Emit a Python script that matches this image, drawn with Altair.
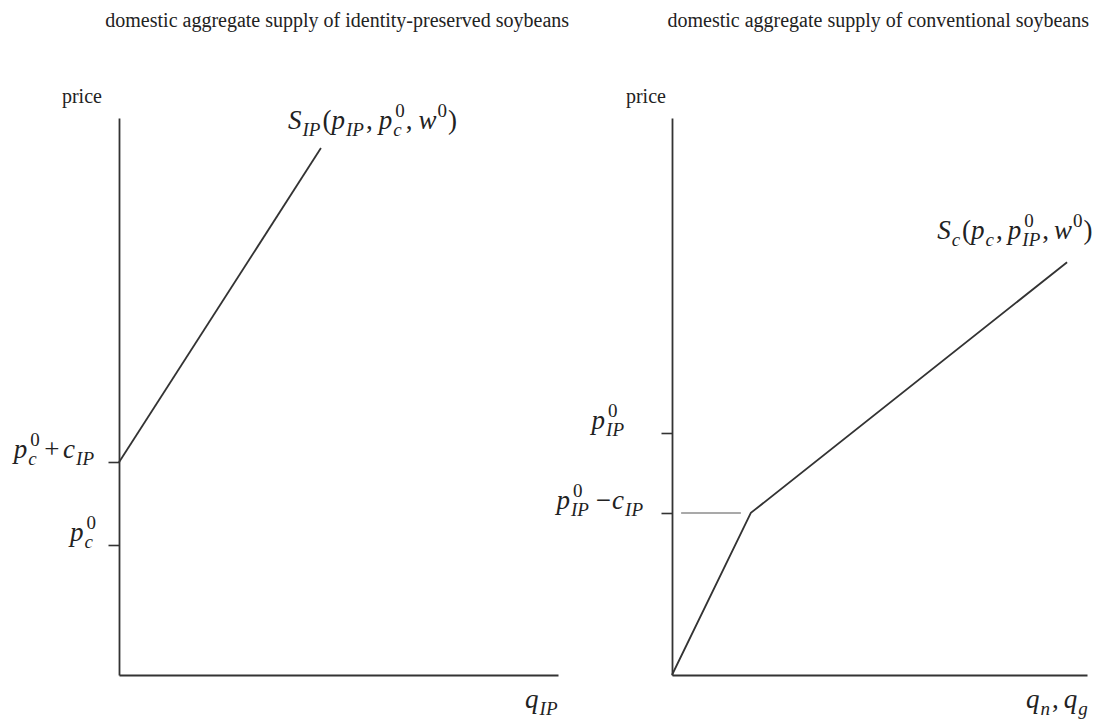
import altair as alt
import pandas as pd

# ---------------- data ----------------
ip_title = "domestic aggregate supply of identity-preserved soybeans"
conv_title = "domestic aggregate supply of conventional soybeans"
axis_word = "price"

# left panel: identity-preserved soybeans (quantity, price)
ip_supply_q = [0.0, 4.60]
ip_supply_p = [3.82, 9.46]
ip_tick_values = [3.82, 2.33]

# right panel: conventional soybeans
conv_supply_q = [0.0, 1.90, 9.52]
conv_supply_p = [0.0, 2.91, 7.41]
conv_tick_values = [4.34, 2.91]
conv_guide_q = [0.22, 1.66]
conv_guide_p = [2.91, 2.91]

# math labels as (text, role) segments
ip_curve_label = [("S", "i"), ("IP", "sub"), ("(", "r"), ("p", "i"), ("IP", "sub"), (",", "r"), (6, "gap"),
                  ("p", "i"), (("c", "0"), "subsup"), (",", "r"), (6, "gap"), ("w", "i"), ("0", "sup"), (")", "r")]
conv_curve_label = [("S", "i"), ("c", "sub"), ("(", "r"), ("p", "i"), ("c", "sub"), (",", "r"), (5, "gap"),
                    ("p", "i"), (("IP", "0"), "subsup"), (",", "r"), (5, "gap"), ("w", "i"), ("0", "sup"), (")", "r")]
ip_tick_labels = [
    [("p", "i"), (("c", "0"), "subsup"), (3.5, "gap"), ("+", "r"), (3.5, "gap"), ("c", "i"), ("IP", "sub")],
    [("p", "i"), (("c", "0"), "subsup")],
]
conv_tick_labels = [
    [("p", "i"), (("IP", "0"), "subsup")],
    [("p", "i"), (("IP", "0"), "subsup"), (5, "gap"), ("\u2212", "r"), (1, "gap"), ("c", "i"), ("IP", "sub")],
]
ip_q_label = [("q", "i"), ("IP", "sub")]
conv_q_label = [("q", "i"), ("n", "sub"), (",", "r"), (5, "gap"), ("q", "i"), ("g", "sub")]

DOMAIN = [0, 10]

# ---------------- style ----------------
SERIF = "Liberation Serif"
INK = "#222222"
LINE = "#333333"
GUIDE = "#8c8c8c"
F, FS = 27, 19
SUB_DY, SUP_DY = 7, -12
W_IT = {"S": .5, "I": .333, "P": .611, "p": .5, "c": .444, "w": .667, "q": .5, "n": .5, "g": .5}
W_RM = {"(": .333, ")": .333, ",": .25, "+": .564, "\u2212": .564, "0": .5}


def seg_width(txt, italic, size):
    tbl = W_IT if italic else W_RM
    return sum(tbl.get(ch, .5) for ch in txt) * size


def layout(segs):
    out = []
    x = 0.0
    for txt, role in segs:
        if role == "i":
            out.append((txt, x, 0, F, "italic")); x += seg_width(txt, True, F)
        elif role == "r":
            out.append((txt, x, 0, F, "normal")); x += seg_width(txt, False, F)
        elif role == "sub":
            x += 1; out.append((txt, x, SUB_DY, FS, "italic")); x += seg_width(txt, True, FS) + 2
        elif role == "sup":
            x += 1; out.append((txt, x, SUP_DY, FS, "normal")); x += seg_width(txt, False, FS) + 1
        elif role == "subsup":
            s, u = txt
            out.append((s, x + 1, SUB_DY, FS, "italic"))
            out.append((u, x + 3, SUP_DY, FS, "normal"))
            x += max(seg_width(s, True, FS) + 3, seg_width(u, False, FS) + 4)
        elif role == "gap":
            x += txt
    return out, x


def panel(width, height, lines, guide, ticks, labels, plain):
    xs = alt.Scale(domain=DOMAIN, nice=False, zero=False)
    ys = alt.Scale(domain=DOMAIN, nice=False, zero=False)
    xax = alt.Axis(title=None, labels=False, ticks=False, grid=False, domainColor=LINE, domainWidth=1.8)
    yax = alt.Axis(title=None, labels=False, values=ticks, tickSize=11, tickWidth=1.6, tickColor=LINE,
                   grid=False, domainColor=LINE, domainWidth=1.8)
    X = lambda: alt.X("q:Q", scale=xs, axis=xax)
    Y = lambda: alt.Y("p:Q", scale=ys, axis=yax)
    layers = []
    qdf = pd.DataFrame({"q": lines[0], "p": lines[1]})
    layers.append(alt.Chart(qdf).mark_line(color=LINE, strokeWidth=1.8).encode(x=X(), y=Y()))
    if guide is not None:
        gdf = pd.DataFrame({"q": guide[0], "p": guide[1]})
        layers.append(alt.Chart(gdf).mark_line(color=GUIDE, strokeWidth=1.5).encode(x=X(), y=Y()))
    for txt, q, p, align, size in plain:
        df = pd.DataFrame({"q": [q], "p": [p], "t": [txt]})
        layers.append(
            alt.Chart(df).mark_text(align=align, baseline="alphabetic", font=SERIF, fontSize=size,
                                    color=INK).encode(x=X(), y=Y(), text="t:N")
        )
    for segs, q, p, align, offx, offy in labels:
        parts, total = layout(segs)
        start = -total if align == "right" else 0
        for txt, dx, dy, size, style in parts:
            df = pd.DataFrame({"q": [q], "p": [p], "t": [txt]})
            layers.append(
                alt.Chart(df).mark_text(align="left", baseline="alphabetic", font=SERIF, fontSize=size,
                                        fontStyle=style, color=INK, dx=start + dx + offx, dy=dy + offy).encode(
                    x=X(), y=Y(), text="t:N")
            )
    return alt.layer(*layers).properties(width=width, height=height)


left = panel(
    439, 557,
    (ip_supply_q, ip_supply_p), None, ip_tick_values,
    [
        (ip_curve_label, 3.85, 9.80, "left", 0, 0),
        (ip_tick_labels[0], 0, ip_tick_values[0], "right", -23, -4),
        (ip_tick_labels[1], 0, ip_tick_values[1], "right", -22, -4),
        (ip_q_label, 9.25, -0.59, "left", 0, 0),
    ],
    [
        (ip_title, 4.97, 11.63, "center", 20),
        (axis_word, -1.30, 10.27, "left", 20),
    ],
)

right = panel(
    415, 557,
    (conv_supply_q, conv_supply_p), (conv_guide_q, conv_guide_p), conv_tick_values,
    [
        (conv_curve_label, 6.39, 7.83, "left", 0, 0),
        (conv_tick_labels[0], 0, conv_tick_values[0], "right", -46, -4),
        (conv_tick_labels[1], 0, conv_tick_values[1], "right", -27, -4),
        (conv_q_label, 8.53, -0.59, "left", 0, 0),
    ],
    [
        (conv_title, 4.97, 11.63, "center", 20),
        (axis_word, -1.11, 10.27, "left", 20),
    ],
)

chart = alt.hconcat(left, right, spacing=114, bounds="flush").properties(
    padding={"left": 5, "top": 3, "right": 0, "bottom": 0}
).configure_view(stroke=None)

chart.save("out.html", embed_options={"renderer": "svg", "actions": False})
